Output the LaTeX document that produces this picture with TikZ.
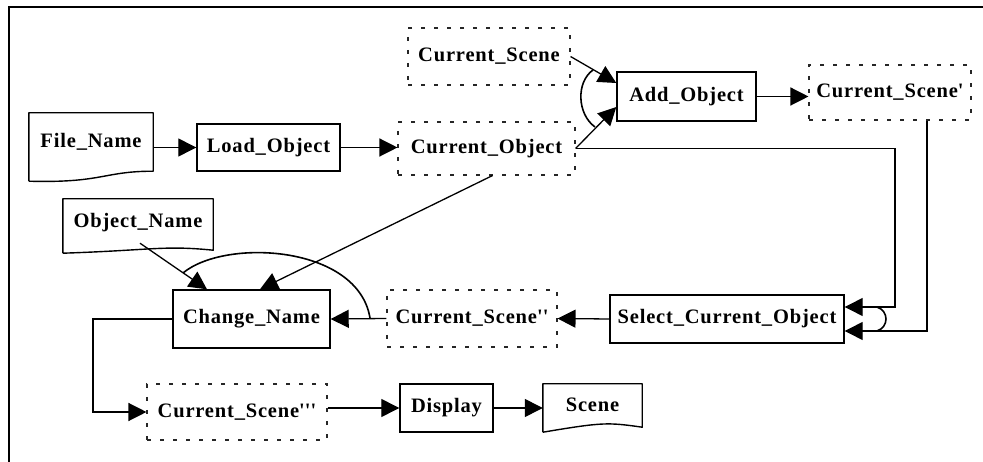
\documentclass[tikz,border=0pt]{standalone}
\usepackage{fontspec}
\setmainfont{Liberation Serif}[LetterSpace=4]
\usetikzlibrary{arrows.meta,calc}
\begin{document}
\begin{tikzpicture}[x=1pt,y=-1pt,
  lbl/.style={font=\fontsize{20.5}{24}\selectfont\bfseries, inner sep=0pt, align=center},
  solidbox/.style={lbl, draw, line width=1.4pt},
  dashbox/.style={lbl, draw=black!85, line width=1.1pt, dash pattern=on 4pt off 9pt},
  docbox/.style={lbl},
  docline/.style={line width=1.4pt, line join=round},
  conn/.style={line width=1.3pt},
  arr/.style={conn, -{Triangle[length=18pt,width=18pt]}},
  andarc/.style={line width=1.6pt}
]
\useasboundingbox (0,0) rectangle (983,462);
% frame
\draw[line width=2pt] (983,7) -- (9,7) -- (9,462);

% document-shaped nodes
\node[docbox, minimum width=124pt, minimum height=58pt] (fname) at (91,142) {File\_Name};
\draw[docline] ([yshift=-10pt]fname.south west) -- (fname.north west) -- (fname.north east) -- (fname.south east)
  .. controls ($(fname.south east)+(-50,0)$) and ($(fname.south west)+(74,12)$) .. ([yshift=-10pt]fname.south west);

\node[docbox, minimum width=150pt, minimum height=48pt] (oname) at (138,223) {Object\_Name};
\draw[docline] ([yshift=-6pt]oname.south west) -- (oname.north west) -- (oname.north east) -- ([yshift=-3pt]oname.south east)
  .. controls ($(oname.south east)+(-50,-2)$) and ($(oname.south west)+(90,3)$) .. ([yshift=-6pt]oname.south west);

\node[docbox, minimum width=99pt, minimum height=42pt] (scene) at (592.5,405) {Scene};
\draw[docline] ([yshift=-6pt]scene.south west) -- (scene.north west) -- (scene.north east) -- ([yshift=-1pt]scene.south east)
  .. controls ($(scene.south east)+(-35,-4)$) and ($(scene.south west)+(60,-4)$) .. ([yshift=-6pt]scene.south west);

% solid process boxes
\node[solidbox, minimum width=143pt, minimum height=47pt] (load) at (268.5,147.5) {Load\_Object};
\node[solidbox, minimum width=139pt, minimum height=49pt] (add) at (686.5,96.5) {Add\_Object};
\node[solidbox, minimum width=157pt, minimum height=58pt] (change) at (251.5,319) {Change\_Name};
\node[solidbox, minimum width=234pt, minimum height=48pt] (select) at (727,319) {Select\_Current\_Object};
\node[solidbox, minimum width=93pt, minimum height=48pt] (display) at (446.5,408) {Display};

% dashed data boxes
\node[dashbox, minimum width=177pt, minimum height=53pt] (cobj) at (486.5,148.5) {Current\_Object};
\node[dashbox, minimum width=162pt, minimum height=57pt] (cscene) at (489,56.5) {Current\_Scene};
\node[dashbox, minimum width=162pt, minimum height=55pt] (cscene1) at (890,92.5) {Current\_Scene\textquotesingle};
\node[dashbox, minimum width=170pt, minimum height=57pt] (cscene2) at (472,318.5) {Current\_Scene\textquotesingle\textquotesingle};
\node[dashbox, minimum width=180pt, minimum height=56pt] (cscene3) at (237,412) {Current\_Scene\textquotesingle\textquotesingle\textquotesingle};

% bend points
\coordinate (b1) at (895,148.5);
\coordinate (b2) at (927,331);
\coordinate (b3) at (93,319);
\coordinate (b4) at (93,412);

% connectors
\draw[arr] (fname.east |- load.west) -- (load.west);
\draw[arr] (load.east) -- (load.east -| cobj.west);
\draw[arr] (cscene.east) -- ([yshift=13.5pt]add.west);
\draw[arr] (cobj.east) -- ([yshift=-10.5pt]add.west);
\draw[arr] (add.east) -- (add.east -| cscene1.west);
\draw[arr] (cobj.east) -- (b1) -- ([yshift=12pt]select.east -| b1) -- ([yshift=12pt]select.east);
\draw[arr] ([xshift=37pt]cscene1.south) -- (b2) -- ([yshift=-12pt]select.east);
\draw[arr] (select.west) -- (cscene2.east);
\draw[arr] (cscene2.west) -- (change.east);
\draw[arr] ($(oname.south)+(2,-4)$) -- ([xshift=-44.5pt]change.north);
\draw[arr] ([xshift=6pt]cobj.south) -- ([xshift=8.5pt]change.north);
\draw[arr] (change.west) -- (b3) -- (b4) -- (cscene3.west);
\draw[arr] (cscene3.east |- display.west) -- (display.west);
\draw[arr] (display.east) -- (scene.west |- display.east);

% AND arcs
\coordinate (a1) at (593,70);
\coordinate (a2) at (595,127);
\draw[andarc] (a1) .. controls (576,82) and (577,114) .. (a2);
\coordinate (a3) at (877,307);
\coordinate (a4) at (877,331);
\draw[andarc] (a3) .. controls (889,311) and (889,327) .. (a4);
\coordinate (a5) at (370,318);
\coordinate (a6) at (183,273);
\draw[andarc] (a5) .. controls (358,245) and (225,238) .. (a6);
\end{tikzpicture}
\end{document}
